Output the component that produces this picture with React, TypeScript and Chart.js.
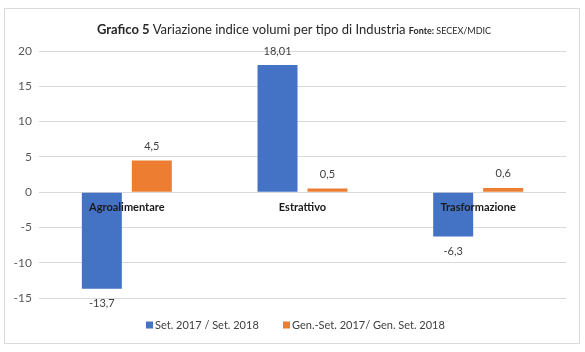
import React, { useEffect, useRef } from "react";
import { Chart, registerables } from "chart.js";

Chart.register(...registerables);

const categories = ["Agroalimentare", "Estrattivo", "Trasformazione"];
const seriesNames = ["Set. 2017 / Set. 2018", "Gen.-Set. 2017/ Gen. Set. 2018"];
const setValues = [-13.7, 18.01, -6.3];
const genSetValues = [4.5, 0.5, 0.6];
const seriesColors = ["#4472C4", "#ED7D31"];
const yTicks = [-15, -10, -5, 0, 5, 10, 15, 20];

const FONT = "Lato, 'Open Sans', sans-serif";

const fmt = (v: number) => String(v).replace(".", ",");

const overlayPlugin = {
  id: "overlay",
  beforeDraw(chart: any) {
    const ctx = chart.ctx;
    ctx.save();
    ctx.fillStyle = "#ffffff";
    ctx.fillRect(0, 0, chart.width, chart.height);
    ctx.strokeStyle = "#d9d9d9";
    ctx.lineWidth = 1;
    ctx.strokeRect(4.5, 8.5, 575, 335);
    ctx.restore();
  },
  afterDraw(chart: any) {
    const ctx = chart.ctx;
    const xs = chart.scales.x;
    const ys = chart.scales.y;
    ctx.save();
    // Title
    const parts = [
      { t: "Grafico 5 ", f: `bold 13px ${FONT}` },
      { t: "Variazione indice volumi per tipo di Industria ", f: `13px ${FONT}` },
      { t: "Fonte: ", f: `bold 9px ${FONT}` },
      { t: "SECEX/MDIC", f: `9px ${FONT}` },
    ];
    let total = 0;
    for (const p of parts) {
      ctx.font = p.f;
      total += ctx.measureText(p.t).width;
    }
    let x = 294 - total / 2;
    ctx.fillStyle = "#262626";
    ctx.textBaseline = "alphabetic";
    ctx.textAlign = "left";
    for (const p of parts) {
      ctx.font = p.f;
      ctx.fillText(p.t, x, 34);
      x += ctx.measureText(p.t).width;
    }
    // Category labels
    const zeroY = ys.getPixelForValue(0);
    ctx.font = `bold 11px ${FONT}`;
    ctx.fillStyle = "#1a1a1a";
    ctx.textAlign = "center";
    ctx.textBaseline = "middle";
    categories.forEach((c, i) => {
      ctx.fillText(c, xs.getPixelForValue(i), zeroY + 15);
    });
    // Value labels
    ctx.font = `11px ${FONT}`;
    ctx.fillStyle = "#404040";
    chart.data.datasets.forEach((ds: any, di: number) => {
      const meta = chart.getDatasetMeta(di);
      meta.data.forEach((el: any, j: number) => {
        const v = ds.data[j];
        const y = v >= 0 ? el.y - 14 : el.y + 15;
        ctx.fillText(fmt(v), el.x, y);
      });
    });
    // Legend
    const legendY = 325;
    ctx.font = `11px ${FONT}`;
    ctx.textAlign = "left";
    const legendX = [146, 283];
    seriesNames.forEach((n, i) => {
      ctx.fillStyle = seriesColors[i];
      ctx.fillRect(legendX[i], legendY - 3.5, 7, 7);
      ctx.fillStyle = "#404040";
      ctx.fillText(n, legendX[i] + 9, legendY);
    });
    ctx.restore();
  },
};

export default function App() {
  const ref = useRef<HTMLCanvasElement>(null);
  useEffect(() => {
    if (!ref.current) return;
    const chart = new Chart(ref.current, {
      type: "bar",
      data: {
        labels: categories,
        datasets: [
          { label: seriesNames[0], data: setValues, backgroundColor: seriesColors[0] },
          { label: seriesNames[1], data: genSetValues, backgroundColor: seriesColors[1] },
        ],
      },
      options: {
        animation: false,
        responsive: false,
        devicePixelRatio: 1,
        datasets: { bar: { categoryPercentage: 0.569, barPercentage: 0.8 } },
        layout: { padding: { top: 51, bottom: 54, left: 0, right: 19 } },
        plugins: { legend: { display: false }, title: { display: false }, tooltip: { enabled: false } },
        scales: {
          x: { display: false },
          y: {
            min: -15,
            max: 20,
            afterBuildTicks: (s: any) => {
              s.ticks = yTicks.map((v) => ({ value: v }));
            },
            afterFit: (s: any) => {
              s.width = 39;
            },
            grid: { color: "#d9d9d9", drawTicks: false },
            border: { display: false },
            ticks: { color: "#595959", font: { family: FONT, size: 12 }, padding: 7 },
          },
        },
      },
      plugins: [overlayPlugin],
    });
    return () => chart.destroy();
  }, []);
  return (
    <div style={{ position: "fixed", left: 0, top: 0, width: 585, height: 352 }}>
      <canvas ref={ref} width={585} height={352} />
    </div>
  );
}
